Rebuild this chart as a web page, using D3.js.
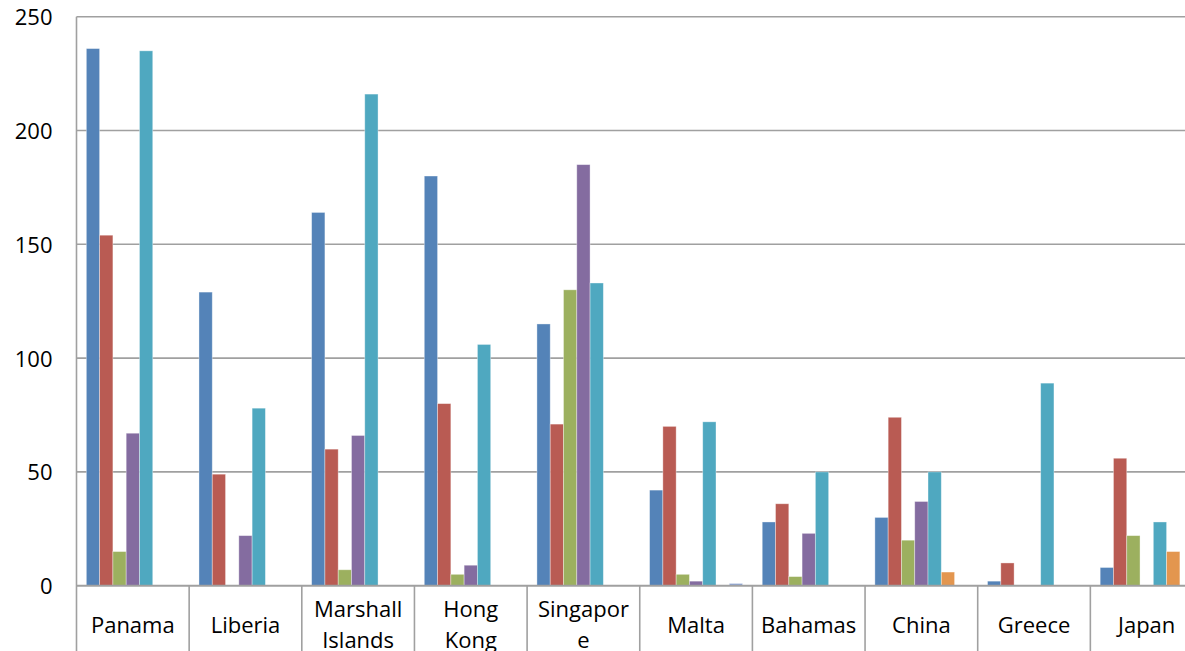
<!DOCTYPE html>
<html lang="en">
<head>
    <meta charset="UTF-8">
    <title>Ship registry bar chart</title>
    <script src="https://d3js.org/d3.v7.min.js"></script>
    <style>
        body { margin: 0; background: #fff; }
        svg { display: block; }
        text { font-family: "Open Sans", sans-serif; fill: #000; }
    </style>
</head>
<body>
<svg></svg>
<script>
    var width = 1185;
    var height = 651;

    // categories and their wrapped tick labels
    var categories = ["Panama", "Liberia", "Marshall Islands", "Hong Kong", "Singapore",
        "Malta", "Bahamas", "China", "Greece", "Japan"];
    var tickLabels = [["Panama"], ["Liberia"], ["Marshall", "Islands"], ["Hong", "Kong"],
        ["Singapor", "e"], ["Malta"], ["Bahamas"], ["China"], ["Greece"], ["Japan"]];

    // one array per series, in category order
    var series1 = [236, 129, 164, 180, 115, 42, 28, 30, 2, 8];
    var series2 = [154, 49, 60, 80, 71, 70, 36, 74, 10, 56];
    var series3 = [15, 0, 7, 5, 130, 5, 4, 20, 0, 22];
    var series4 = [67, 22, 66, 9, 185, 2, 23, 37, 0, 0];
    var series5 = [235, 78, 216, 106, 133, 72, 50, 50, 89, 28];
    var series6 = [0, 0, 0, 0, 0, 0, 0, 6, 0, 15];
    var series7 = [0, 0, 0, 0, 0, 1, 0, 0, 0, 0];

    var yTicks = [0, 50, 100, 150, 200, 250];

    var allSeries = [series1, series2, series3, series4, series5, series6, series7];
    var colors = ["#5483b8", "#b95b53", "#9cb05f", "#846ca0", "#4fa8c0", "#e3964f", "#8ea6d6"];

    var svg = d3.select("svg")
            .attr("width", width)
            .attr("height", height);

    var plotLeft = 76.5, plotRight = 1203, plotTop = 16.7, plotBottom = 585.7;

    var xScale = d3.scaleBand()
            .domain(categories)
            .range([plotLeft, plotRight])
            .paddingInner(0)
            .paddingOuter(0);

    var xInner = d3.scaleBand()
            .domain(d3.range(allSeries.length))
            .range([0, xScale.bandwidth()])
            .paddingInner(0)
            .paddingOuter(0.74);

    var yScale = d3.scaleLinear()
            .domain([0, 250])
            .range([plotBottom, plotTop]);

    // horizontal gridlines
    svg.append("g")
            .selectAll("line")
            .data(yTicks)
            .enter()
            .append("line")
            .attr("x1", plotLeft)
            .attr("x2", plotRight)
            .attr("y1", function (d) { return yScale(d); })
            .attr("y2", function (d) { return yScale(d); })
            .attr("stroke", "#a0a0a0")
            .attr("stroke-width", 1.6);

    // bars, one group per series; zero values are skipped
    var groups = svg.append("g")
            .selectAll("g")
            .data(allSeries)
            .enter()
            .append("g")
            .attr("fill", function (d, i) { return colors[i]; });

    groups.each(function (values, s) {
        var cells = values.map(function (v, i) { return {value: v, cat: categories[i]}; })
                .filter(function (c) { return c.value > 0; });
        d3.select(this).selectAll("rect")
                .data(cells)
                .enter()
                .append("rect")
                .attr("x", function (c) { return xScale(c.cat) + xInner(s); })
                .attr("width", xInner.bandwidth())
                .attr("y", function (c) { return yScale(c.value); })
                .attr("height", function (c) { return yScale(0) - yScale(c.value); })
                .attr("stroke", "rgba(255,255,255,0.45)")
                .attr("stroke-width", 0.8);
    });

    // baseline redrawn over bars
    svg.append("line")
            .attr("x1", plotLeft).attr("x2", plotRight)
            .attr("y1", yScale(0)).attr("y2", yScale(0))
            .attr("stroke", "#a0a0a0")
            .attr("stroke-width", 1.8);

    // left axis line, running into the label area
    svg.append("line")
            .attr("x1", plotLeft).attr("x2", plotLeft)
            .attr("y1", plotTop).attr("y2", height)
            .attr("stroke", "#a0a0a0")
            .attr("stroke-width", 1.6);

    // category separators below the axis
    svg.append("g")
            .selectAll("line")
            .data(categories.slice(1))
            .enter()
            .append("line")
            .attr("x1", function (d) { return xScale(d); })
            .attr("x2", function (d) { return xScale(d); })
            .attr("y1", yScale(0))
            .attr("y2", height)
            .attr("stroke", "#a0a0a0")
            .attr("stroke-width", 1.6);

    // y axis labels
    var yAxis = d3.axisLeft(yScale)
            .tickValues(yTicks)
            .tickSize(0)
            .tickPadding(24)
            .tickFormat(d3.format("d"));

    var yg = svg.append("g")
            .attr("transform", "translate(" + plotLeft + ",0)")
            .call(yAxis);
    yg.select(".domain").remove();
    yg.selectAll("text")
            .attr("font-family", "Open Sans, sans-serif")
            .attr("font-size", 22)
            .attr("fill", "#000")
            .attr("dy", "0.36em");

    // category labels
    var labels = svg.append("g")
            .selectAll("text")
            .data(categories)
            .enter()
            .append("text")
            .attr("text-anchor", "middle")
            .attr("font-size", 22)
            .attr("x", function (d) { return xScale(d) + xScale.bandwidth() / 2; });

    labels.each(function (d, i) {
        var lines = tickLabels[i];
        var baseY = lines.length === 1 ? 633 : 617;
        d3.select(this).selectAll("tspan")
                .data(lines)
                .enter()
                .append("tspan")
                .attr("x", xScale(d) + xScale.bandwidth() / 2)
                .attr("y", function (t, j) { return baseY + j * 30.5; })
                .text(function (t) { return t; });
    });
</script>
</body>
</html>
